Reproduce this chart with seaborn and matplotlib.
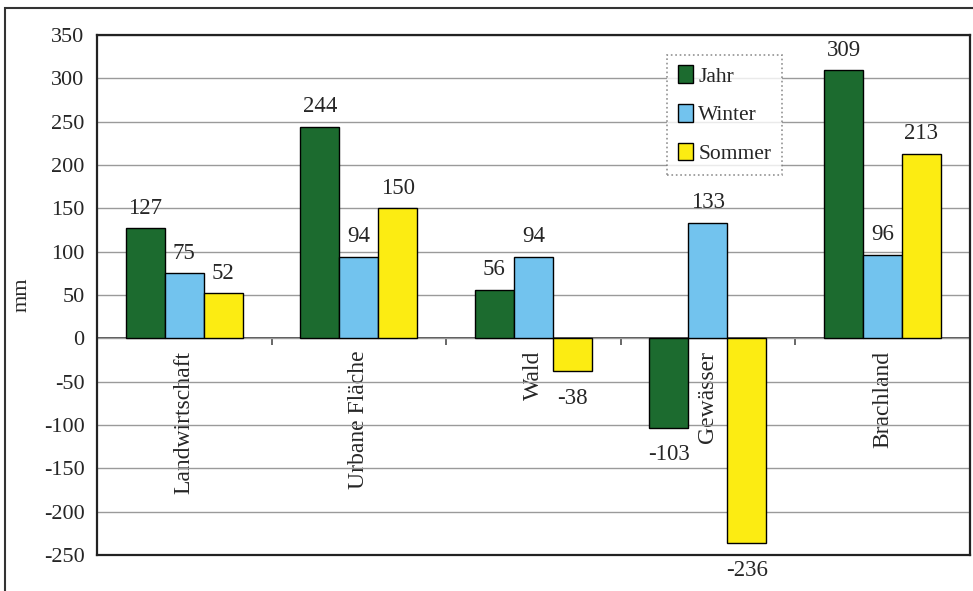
import matplotlib
matplotlib.use("Agg")
import matplotlib.pyplot as plt
from matplotlib.patches import Rectangle
import seaborn as sns
import pandas as pd

# Mean water balance per land use class (mm)
categories = ["Landwirtschaft", "Urbane Fläche", "Wald", "Gewässer", "Brachland"]
series = ["Jahr", "Winter", "Sommer"]
jahr = [127, 244, 56, -103, 309]
winter = [75, 94, 94, 133, 96]
sommer = [52, 150, -38, -236, 213]
colors = ["#1c6b2f", "#72c3ee", "#fcec12"]
yticks = list(range(-250, 351, 50))

df = pd.DataFrame({
    "Klasse": categories * 3,
    "Zeitraum": [s for s in series for _ in categories],
    "mm": jahr + winter + sommer,
})

sns.set_theme(style="white")
plt.rcParams["font.family"] = ["Liberation Serif", "DejaVu Serif"]

fig = plt.figure(figsize=(9.73, 5.91), dpi=100)
ax = fig.add_axes([0.0997, 0.0609, 0.897, 0.88])

sns.barplot(data=df, x="Klasse", y="mm", hue="Zeitraum", order=categories,
            hue_order=series, palette=colors, width=0.67, gap=0,
            edgecolor="black", linewidth=1, saturation=1, ax=ax, zorder=3)

ax.set_ylim(-250, 350)
ax.set_xlim(-0.5, len(categories) - 0.5)
ax.set_yticks(yticks)
ax.set_yticklabels([str(v) for v in yticks], fontsize=16)
ax.tick_params(axis="y", direction="out", length=5, width=1, color="#444444", pad=4)
ax.set_ylabel("mm", fontsize=16)
ax.yaxis.set_label_coords(-0.075, 0.5)
ax.set_xlabel("")
ax.set_xticks([])
ax.grid(axis="y", color="#9a9a9a", linewidth=1, zorder=0)
for side in ["left", "right", "top", "bottom"]:
    ax.spines[side].set_visible(True)
    ax.spines[side].set_color("#222222")
    ax.spines[side].set_linewidth(1.6)

# Category axis running along the zero line
zero_axis = ax.secondary_xaxis(250 / 600)
zero_axis.spines["bottom"].set_color("#333333")
zero_axis.spines["bottom"].set_linewidth(1.2)
zero_axis.set_xticks([i + 0.5 for i in range(len(categories) - 1)])
zero_axis.set_xticklabels([""] * (len(categories) - 1))
zero_axis.set_xticks(range(len(categories)), minor=True)
zero_axis.set_xticklabels(categories, minor=True, rotation=90, fontsize=17, va="top")
zero_axis.tick_params(axis="x", which="major", direction="out", length=5, color="#555555")
zero_axis.tick_params(axis="x", which="minor", length=0, pad=9)

# Value labels: above positive bars, a bit further below negative ones
for container, values in zip(ax.containers, [jahr, winter, sommer]):
    ax.bar_label(container, labels=[str(v) if v >= 0 else "" for v in values],
                 padding=7, fontsize=16.5)
    ax.bar_label(container, labels=[str(v) if v < 0 else "" for v in values],
                 padding=12, fontsize=16.5)

leg = ax.legend(loc="upper left", bbox_to_anchor=(0.653, 0.962), fontsize=15.5,
                frameon=True, fancybox=False, handlelength=0.7, handleheight=0.9,
                handletextpad=0.25, labelspacing=0.8, borderpad=0.5,
                borderaxespad=0)
leg.get_frame().set_edgecolor("#777777")
leg.get_frame().set_linestyle(":")
leg.get_frame().set_linewidth(1.2)
for h in leg.legend_handles:
    h.set_edgecolor("black")
    h.set_linewidth(1)

# Outer frame of the figure
fig.add_artist(Rectangle((5 / 973, -0.2), 1.2, 0.2 + 1 - 8 / 591,
                         transform=fig.transFigure, fill=False,
                         edgecolor="#333333", linewidth=1.5, clip_on=False))

fig.savefig("out.png", dpi=100)
